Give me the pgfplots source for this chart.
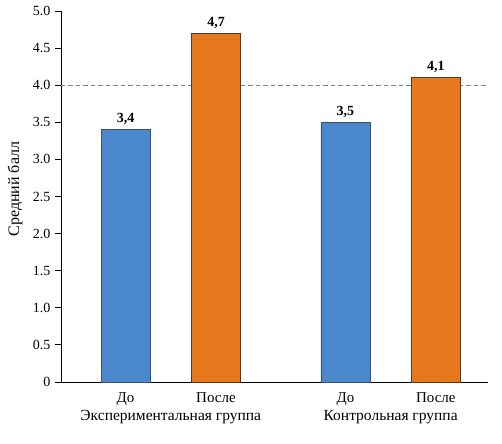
\documentclass[border=0pt]{standalone}
\usepackage{fontspec}
\setmainfont{Liberation Serif}
\usepackage{pgfplots}
\pgfplotsset{compat=1.18}
\definecolor{barblue}{RGB}{74,135,203}
\definecolor{barblueedge}{RGB}{62,82,110}
\definecolor{barorange}{RGB}{230,121,30}
\definecolor{barorangeedge}{RGB}{90,55,30}
\definecolor{refgray}{RGB}{128,128,128}
\begin{document}
\begin{tikzpicture}
\begin{axis}[
  scale only axis,
  width=427pt, height=371pt,
  xmin=-0.713, xmax=4.006,
  ymin=0, ymax=5,
  axis x line*=bottom, axis y line*=left,
  axis line style={black, line width=0.9pt},
  ytick={0,0.5,1,1.5,2,2.5,3,3.5,4,4.5,5},
  yticklabels={0,0.5,1.0,1.5,2.0,2.5,3.0,3.5,4.0,4.5,5.0},
  xtick={0,1,2.43,3.43},
  xticklabels={До,После,До,После},
  x tick style={draw=none},
  y tick style={black, line width=0.9pt},
  tick align=outside,
  major tick length=6pt,
  yticklabel style={font=\fontsize{14}{16}\selectfont, xshift=-1pt},
  xticklabel style={font=\fontsize{15}{17}\selectfont, yshift=-1pt},
  ylabel={Средний балл},
  ylabel style={font=\fontsize{16}{18}\selectfont, at={(axis description cs:-0.1077,0.52)}, anchor=center},
  /pgf/number format/assume math mode=true,
  /pgf/number format/.cd, fixed, fixed zerofill, precision=1, use comma,
  /pgfplots/.cd,
  clip=false,
]
% reference level
\addplot[refgray, line width=0.9pt, dash pattern=on 4.5pt off 3pt] coordinates {(-0.713,4) (4.006,4)};
% scores before
\addplot[ybar, bar width=49pt, fill=barblue, draw=barblueedge, line width=0.6pt,
  nodes near coords, nodes near coords style={font=\fontsize{14}{16}\selectfont\bfseries, anchor=south, yshift=1pt}]
  coordinates {(0,3.4) (2.43,3.5)};
% scores after
\addplot[ybar, bar width=49pt, fill=barorange, draw=barorangeedge, line width=0.6pt,
  nodes near coords, nodes near coords style={font=\fontsize{14}{16}\selectfont\bfseries, anchor=south, yshift=1pt}]
  coordinates {(1,4.7) (3.43,4.1)};
\node[font=\fontsize{15.5}{18}\selectfont] at (axis cs:0.5,0) [yshift=-35pt] {Экспериментальная группа};
\node[font=\fontsize{15.5}{18}\selectfont] at (axis cs:2.93,0) [yshift=-35pt] {Контрольная группа};
\end{axis}
\pgfresetboundingbox
\path (current axis.south west)+(-61pt,-62pt) coordinate (bl);
\path (current axis.north east)+(14pt,11pt) coordinate (tr);
\path[use as bounding box] (bl) rectangle (tr);
\end{tikzpicture}
\end{document}
